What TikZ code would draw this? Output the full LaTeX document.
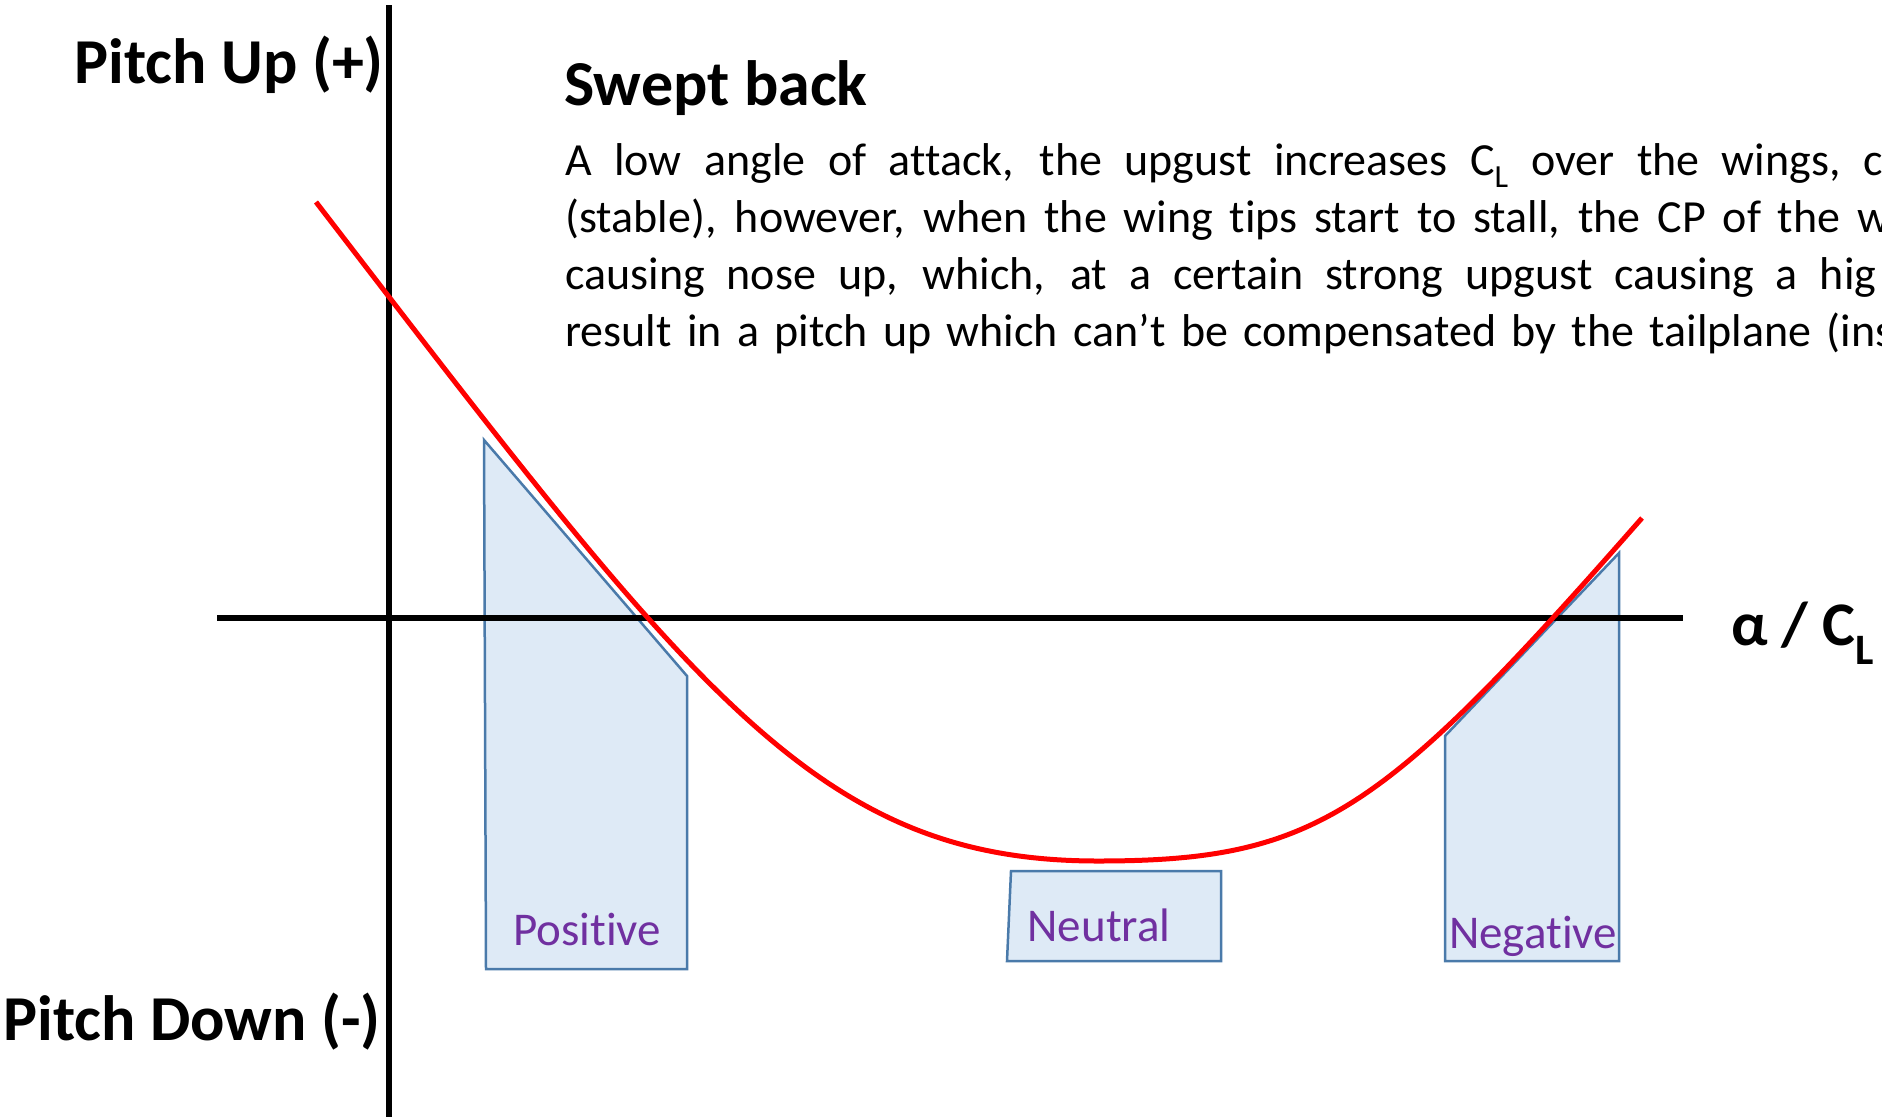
\documentclass[tikz,border=0pt]{standalone}
\usepackage{fontspec}
\setmainfont{Carlito}[Ligatures=NoCommon]
\definecolor{boxfill}{HTML}{DEEAF6}
\definecolor{boxline}{HTML}{4A7AAA}
\definecolor{lblpurple}{HTML}{7030A0}
\definecolor{curvered}{HTML}{FF0000}
\tikzset{
  axisline/.style={line width=6pt, black},
  regionbox/.style={fill=boxfill, draw=boxline, line width=2.5pt, line join=miter},
  regionlabel/.style={text=lblpurple, font=\fontsize{47}{56}\selectfont, inner sep=0pt},
  bigbold/.style={font=\fontsize{64}{76}\selectfont\bfseries, inner sep=0pt},
  bodyline/.style={font=\fontsize{46}{55}\selectfont, inner sep=0pt, anchor=base west},
  redcurve/.style={line width=5pt, curvered}
}
\begin{document}
\begin{tikzpicture}[x=1pt,y=-1pt]
\useasboundingbox (0,0) rectangle (1882,1117);
\clip (0,0) rectangle (1882,1117);
\fill[white] (0,0) rectangle (1882,1117);

% region shapes
\draw[regionbox] (484,440) -- (687,676) -- (687,969) -- (486,969) -- cycle;
\draw[regionbox] (1011,871) -- (1221,871) -- (1221,961) -- (1007,961) -- cycle;
\draw[regionbox] (1445,736) -- (1619,553) -- (1619,961) -- (1445,961) -- cycle;

% axes
\coordinate (vtop) at (389,5);
\coordinate (vbot) at (389,1117);
\coordinate (hleft) at (217,618);
\coordinate (hright) at (1683,618);
\draw[axisline] (vtop) -- (vbot);
\draw[axisline] (hleft) -- (hright);

% curve
\coordinate (cstart) at (316,202);
\coordinate (cmin) at (1098,861);
\coordinate (cend) at (1642,518);
\draw[redcurve] (cstart) .. controls (696,696) and (818,861) .. (cmin)
  .. controls (1318,861) and (1382,814) .. (cend);

% labels
\node[bigbold, anchor=base east] (pup) at (384,83) {Pitch Up (+)};
\node[bigbold, anchor=base east] (pdown) at (381,1040) {Pitch Down (-)};
\node[font=\fontsize{62}{74}\selectfont\bfseries, inner sep=0pt, anchor=base west] (axlbl) at (1731,645) {α / C\textsubscript{L}};
\node[bigbold, anchor=base west] (title) at (564,105) {Swept back};

\node[bodyline] (l1) at (565,175) {\makebox[1298pt][s]{A low angle of attack, the upgust increases C\textsubscript{L} over the wings,\ }c};
\node[bodyline] (l2) at (565,232) {\makebox[1292pt][s]{(stable), however, when the wing tips start to stall, the CP of the\ }w};
\node[bodyline] (l3) at (565,289) {\makebox[1255pt][s]{causing nose up, which, at a certain strong upgust causing a\ }hig};
\node[bodyline] (l4) at (565,346) {\makebox[1262pt][s]{result in a pitch up which can’t be compensated by the tailplane\ }(ins};

\node[regionlabel] (pos) at (587,929) {Positive};
\node[regionlabel] (neu) at (1099,925) {Neutral};
\node[regionlabel] (neg) at (1533,936) {Negative};
\end{tikzpicture}
\end{document}
